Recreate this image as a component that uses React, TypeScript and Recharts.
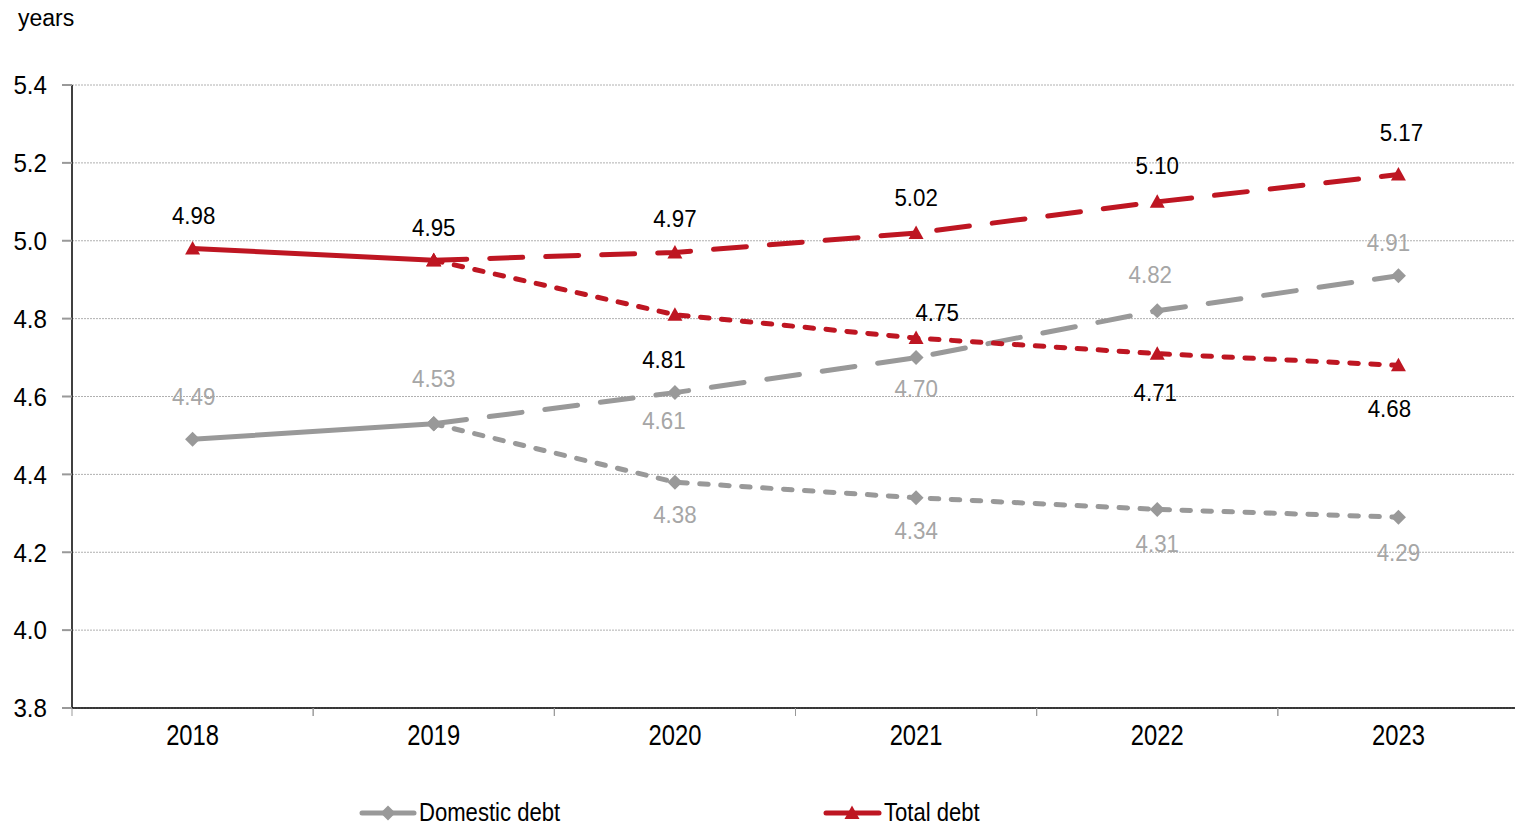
import React from 'react';
import { LineChart, Line, XAxis, YAxis, CartesianGrid, Legend, LabelList } from 'recharts';

const categories = ['2018', '2019', '2020', '2021', '2022', '2023'];
const totalActual = [4.98, 4.95, null, null, null, null];
const totalHigh = [null, 4.95, 4.97, 5.02, 5.1, 5.17];
const totalLow = [null, 4.95, 4.81, 4.75, 4.71, 4.68];
const domesticActual = [4.49, 4.53, null, null, null, null];
const domesticHigh = [null, 4.53, 4.61, 4.7, 4.82, 4.91];
const domesticLow = [null, 4.53, 4.38, 4.34, 4.31, 4.29];
const yTicks = [3.8, 4.0, 4.2, 4.4, 4.6, 4.8, 5.0, 5.2, 5.4];
const seriesNames = ['Domestic debt', 'Total debt'];

// label placement (dx, dy from the point); null = no label
const labelPlacement: Record<string, ([number, number] | null)[]> = {
  totalActual: [[1, -33], [0, -33], null, null, null, null],
  totalHigh: [null, null, [0, -34], [0, -35], [0, -36], [3, -42]],
  totalLow: [null, null, [-11, 45], [21, -25], [-2, 39], [-9, 43]],
  domesticActual: [[1, -43], [0, -45], null, null, null, null],
  domesticHigh: [null, null, [-11, 28], [0, 31], [-7, -36], [-10, -33]],
  domesticLow: [null, null, [0, 33], [0, 33], [0, 34], [0, 36]],
};

const data = categories.map((c, i) => ({
  year: c,
  totalActual: totalActual[i],
  totalHigh: totalHigh[i],
  totalLow: totalLow[i],
  domesticActual: domesticActual[i],
  domesticHigh: domesticHigh[i],
  domesticLow: domesticLow[i],
}));

const RED = '#BE1622';
const GRAY = '#999999';
const LABEL_GRAY = '#A6A6A6';
const FONT = "'Liberation Sans', Arial, sans-serif";

const CHART_W = 1519;
const LEFT = 72;
const PLOT_W = CHART_W - LEFT;
const BAND = PLOT_W / categories.length;

const SText = ({ x, y, sx = 1, size, color = '#000', anchor = 'middle', children }: any) => (
  <text
    transform={`translate(${x},${y}) scale(${sx},1)`}
    x={0}
    y={0}
    textAnchor={anchor}
    dominantBaseline="central"
    fontSize={size}
    fontFamily={FONT}
    fill={color}
  >
    {children}
  </text>
);

const Triangle = ({ cx, cy, color }: any) => (
  <polygon points={`${cx - 7.5},${cy + 6} ${cx + 7.5},${cy + 6} ${cx},${cy - 7.5}`} fill={color} />
);
const Diamond = ({ cx, cy, color }: any) => (
  <polygon points={`${cx},${cy - 7.5} ${cx + 7.5},${cy} ${cx},${cy + 7.5} ${cx - 7.5},${cy}`} fill={color} />
);

const makeDot = (kind: 'tri' | 'dia', color: string) => (props: any) => {
  const { cx, cy, value, index } = props;
  if (value == null || cx == null || cy == null) return <g key={`d${index}`} />;
  return kind === 'tri' ? (
    <Triangle key={`d${index}`} cx={cx} cy={cy} color={color} />
  ) : (
    <Diamond key={`d${index}`} cx={cx} cy={cy} color={color} />
  );
};

const makeLabel = (key: string, color: string) => (props: any) => {
  const { x, y, value, index } = props;
  const pl = labelPlacement[key][index];
  if (value == null || pl == null) return null;
  return (
    <SText x={x + pl[0]} y={y + pl[1]} sx={0.93} size={24} color={color}>
      {Number(value).toFixed(2)}
    </SText>
  );
};

const XTick = (props: any) => {
  const { x, y, payload } = props;
  const half = BAND / 2;
  return (
    <g>
      <line x1={x - half} y1={y - 8} x2={x - half} y2={y} stroke="#999" strokeWidth={1} />
      <line x1={x + half} y1={y - 8} x2={x + half} y2={y} stroke="#999" strokeWidth={1} />
      <SText x={x} y={y + 19} sx={0.82} size={29}>
        {payload.value}
      </SText>
    </g>
  );
};

const YTick = (props: any) => {
  const { y, payload } = props;
  return (
    <g>
      <line x1={LEFT - 10} y1={y} x2={LEFT} y2={y} stroke="#999" strokeWidth={2} />
      <SText x={47} y={y} size={26} sx={0.93} anchor="end">
        {Number(payload.value).toFixed(1)}
      </SText>
    </g>
  );
};

const LegendContent = () => (
  <div style={{ position: 'relative', width: 1515, height: 34 }}>
    <svg width={1515} height={34} style={{ position: 'absolute', left: 0, top: 0 }}>
      <line x1={362} y1={20} x2={414} y2={20} stroke={GRAY} strokeWidth={5} strokeLinecap="round" />
      <Diamond cx={388} cy={20} color={GRAY} />
      <SText x={419} y={19} sx={0.85} size={26} anchor="start">
        {seriesNames[0]}
      </SText>
      <line x1={826} y1={20} x2={879} y2={20} stroke={RED} strokeWidth={5} strokeLinecap="round" />
      <Triangle cx={852} cy={20} color={RED} />
      <SText x={884} y={19} sx={0.85} size={26} anchor="start">
        {seriesNames[1]}
      </SText>
    </svg>
  </div>
);

const SW = 5;
const LONG = '33 23';
const SHORT = '8.5 12.5';

export default function App() {
  return (
    <div style={{ position: 'absolute', left: 0, top: 0, width: 1515, height: 826, overflow: 'hidden', background: '#fff' }}>
      <LineChart
        width={CHART_W}
        height={826}
        data={data}
        margin={{ top: 85, right: 0, left: 0, bottom: 0 }}
      >
        <CartesianGrid vertical={false} stroke="#B0B0B0" strokeDasharray="2 1" />
        <XAxis
          dataKey="year"
          scale="band"
          axisLine={{ stroke: '#000', strokeWidth: 1.5 }}
          tickLine={false}
          tick={<XTick />}
          height={84}
          interval={0}
        />
        <YAxis
          domain={[3.8, 5.4]}
          ticks={yTicks}
          width={LEFT}
          axisLine={{ stroke: '#000', strokeWidth: 1.5 }}
          tickLine={false}
          tick={<YTick />}
          interval={0}
          label={() => (
            <SText x={18} y={18} size={23} anchor="start">
              years
            </SText>
          )}
        />
        <Legend
          verticalAlign="bottom"
          content={<LegendContent />}
          wrapperStyle={{ position: 'absolute', left: 0, top: 793, width: 1515 }}
        />
        <Line dataKey="domesticActual" stroke={GRAY} strokeWidth={SW} strokeLinecap="round" dot={makeDot('dia', GRAY)} isAnimationActive={false} activeDot={false}>
          <LabelList dataKey="domesticActual" content={makeLabel('domesticActual', LABEL_GRAY)} />
        </Line>
        <Line dataKey="domesticHigh" stroke={GRAY} strokeWidth={SW} strokeDasharray={LONG} strokeLinecap="round" dot={makeDot('dia', GRAY)} isAnimationActive={false} activeDot={false}>
          <LabelList dataKey="domesticHigh" content={makeLabel('domesticHigh', LABEL_GRAY)} />
        </Line>
        <Line dataKey="domesticLow" stroke={GRAY} strokeWidth={SW} strokeDasharray={SHORT} strokeLinecap="round" dot={makeDot('dia', GRAY)} isAnimationActive={false} activeDot={false}>
          <LabelList dataKey="domesticLow" content={makeLabel('domesticLow', LABEL_GRAY)} />
        </Line>
        <Line dataKey="totalActual" stroke={RED} strokeWidth={SW} strokeLinecap="round" dot={makeDot('tri', RED)} isAnimationActive={false} activeDot={false}>
          <LabelList dataKey="totalActual" content={makeLabel('totalActual', '#000')} />
        </Line>
        <Line dataKey="totalHigh" stroke={RED} strokeWidth={SW} strokeDasharray={LONG} strokeLinecap="round" dot={makeDot('tri', RED)} isAnimationActive={false} activeDot={false}>
          <LabelList dataKey="totalHigh" content={makeLabel('totalHigh', '#000')} />
        </Line>
        <Line dataKey="totalLow" stroke={RED} strokeWidth={SW} strokeDasharray={SHORT} strokeLinecap="round" dot={makeDot('tri', RED)} isAnimationActive={false} activeDot={false}>
          <LabelList dataKey="totalLow" content={makeLabel('totalLow', '#000')} />
        </Line>
      </LineChart>
    </div>
  );
}
